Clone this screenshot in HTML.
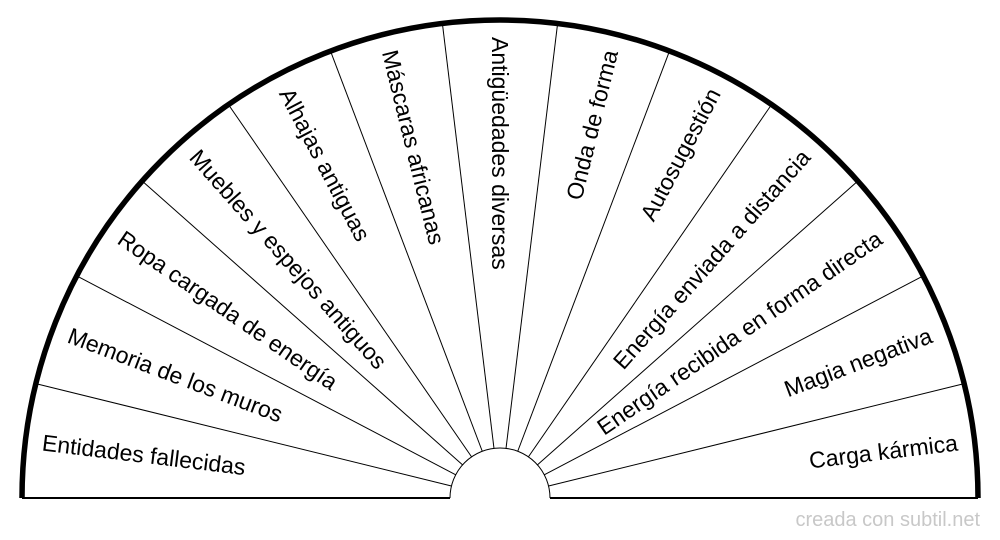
<!DOCTYPE html>
<html><head><meta charset="utf-8"><style>
html,body{margin:0;padding:0;background:#fff;}
svg{display:block;}
text{font-family:"Liberation Sans",sans-serif;font-size:23px;fill:#000;}
</style></head><body>
<svg width="1000" height="540" viewBox="0 0 1000 540" xmlns="http://www.w3.org/2000/svg">
<g transform="translate(500,498)" stroke="#000" fill="none">
<path d="M-478,0 A478,478 0 0 1 478,0" stroke-width="5.5"/>
<path d="M-50,0 A50,50 0 0 1 50,0" stroke-width="1"/>
<line x1="-478" y1="0" x2="-50" y2="0" stroke-width="2"/>
<line x1="50" y1="0" x2="478" y2="0" stroke-width="2"/>
<g stroke-width="1">
<line x1="-50" y1="0" x2="-476" y2="0" transform="rotate(13.846)"/>
<line x1="-50" y1="0" x2="-476" y2="0" transform="rotate(27.692)"/>
<line x1="-50" y1="0" x2="-476" y2="0" transform="rotate(41.538)"/>
<line x1="-50" y1="0" x2="-476" y2="0" transform="rotate(55.385)"/>
<line x1="-50" y1="0" x2="-476" y2="0" transform="rotate(69.231)"/>
<line x1="-50" y1="0" x2="-476" y2="0" transform="rotate(83.077)"/>
<line x1="-50" y1="0" x2="-476" y2="0" transform="rotate(96.923)"/>
<line x1="-50" y1="0" x2="-476" y2="0" transform="rotate(110.769)"/>
<line x1="-50" y1="0" x2="-476" y2="0" transform="rotate(124.615)"/>
<line x1="-50" y1="0" x2="-476" y2="0" transform="rotate(138.462)"/>
<line x1="-50" y1="0" x2="-476" y2="0" transform="rotate(152.308)"/>
<line x1="-50" y1="0" x2="-476" y2="0" transform="rotate(166.154)"/>
</g>
</g>
<g transform="translate(500,498)">
<text x="-461" dy="0.35em" transform="rotate(6.923)">Entidades fallecidas</text>
<text x="-461" dy="0.35em" transform="rotate(20.769)">Memoria de los muros</text>
<text x="-461" dy="0.35em" transform="rotate(34.615)">Ropa cargada de energía</text>
<text x="-461" dy="0.35em" transform="rotate(48.462)">Muebles y espejos antiguos</text>
<text x="-461" dy="0.35em" transform="rotate(62.308)">Alhajas antiguas</text>
<text x="-461" dy="0.35em" transform="rotate(76.154)">Máscaras africanas</text>
<text x="-461" dy="0.35em" transform="rotate(90)">Antigüedades diversas</text>
<text x="461" dy="0.35em" text-anchor="end" transform="rotate(-76.154)">Onda de forma</text>
<text x="461" dy="0.35em" text-anchor="end" transform="rotate(-62.308)">Autosugestión</text>
<text x="461" dy="0.35em" text-anchor="end" transform="rotate(-48.462)">Energía enviada a distancia</text>
<text x="461" dy="0.35em" text-anchor="end" transform="rotate(-34.615)">Energía recibida en forma directa</text>
<text x="461" dy="0.35em" text-anchor="end" transform="rotate(-20.769)">Magia negativa</text>
<text x="461" dy="0.35em" text-anchor="end" transform="rotate(-6.923)">Carga kármica</text>
</g>
<text x="980" y="526" text-anchor="end" style="font-size:20px;fill:#c8c8c8">creada con subtil.net</text>
</svg>
</body></html>
